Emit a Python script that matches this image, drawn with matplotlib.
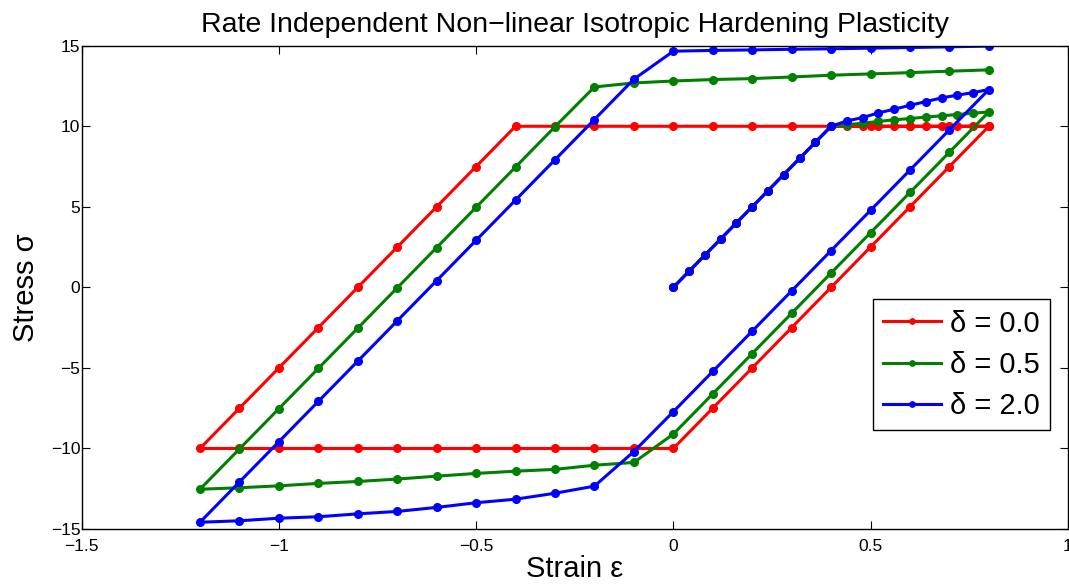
import numpy as np
import matplotlib
matplotlib.use("Agg")
import matplotlib.pyplot as plt

# Strain history: load 0 -> 0.8, unload 0.8 -> -1.2, reload -1.2 -> 0.8
strain_load = [0.0, 0.04, 0.08, 0.12, 0.16, 0.20, 0.24, 0.28, 0.32, 0.36, 0.40,
               0.44, 0.48, 0.52, 0.56, 0.60, 0.64, 0.68, 0.72, 0.76, 0.80]
strain_unload = [0.7, 0.6, 0.5, 0.4, 0.3, 0.2, 0.1, 0.0, -0.1, -0.2,
                 -0.3, -0.4, -0.5, -0.6, -0.7, -0.8, -0.9, -1.0, -1.1, -1.2]
strain_reload = [-1.1, -1.0, -0.9, -0.8, -0.7, -0.6, -0.5, -0.4, -0.3, -0.2,
                 -0.1, 0.0, 0.1, 0.2, 0.3, 0.4, 0.5, 0.6, 0.7, 0.8]

# delta = 0.0
red_load = [0, 1, 2, 3, 4, 5, 6, 7, 8, 9, 10,
            10, 10, 10, 10, 10, 10, 10, 10, 10, 10]
red_unload = [7.5, 5, 2.5, 0, -2.5, -5, -7.5, -10, -10, -10,
              -10, -10, -10, -10, -10, -10, -10, -10, -10, -10]
red_reload = [-7.5, -5, -2.5, 0, 2.5, 5, 7.5, 10, 10, 10,
              10, 10, 10, 10, 10, 10, 10, 10, 10, 10]

# delta = 0.5
green_load = [0, 1, 2, 3, 4, 5, 6, 7, 8, 9, 10,
              10.10, 10.19, 10.30, 10.40, 10.48, 10.57, 10.65, 10.73, 10.81, 10.89]
green_unload = [8.39, 5.89, 3.39, 0.89, -1.61, -4.11, -6.61, -9.11, -10.87, -11.04,
                -11.30, -11.41, -11.55, -11.72, -11.90, -12.05, -12.17, -12.32, -12.44, -12.53]
green_reload = [-10.03, -7.53, -5.03, -2.53, -0.03, 2.47, 4.97, 7.47, 9.97, 12.44,
                12.69, 12.81, 12.90, 12.96, 13.06, 13.17, 13.25, 13.33, 13.42, 13.50]

# delta = 2.0
blue_load = [0, 1, 2, 3, 4, 5, 6, 7, 8, 9, 10,
             10.33, 10.54, 10.83, 11.06, 11.30, 11.53, 11.76, 11.93, 12.09, 12.28]
blue_unload = [9.78, 7.28, 4.78, 2.28, -0.22, -2.72, -5.22, -7.72, -10.19, -12.34,
               -12.78, -13.15, -13.37, -13.66, -13.91, -14.06, -14.24, -14.33, -14.49, -14.58]
blue_reload = [-12.08, -9.58, -7.08, -4.58, -2.08, 0.42, 2.92, 5.42, 7.92, 10.42,
               12.92, 14.66, 14.71, 14.74, 14.78, 14.81, 14.85, 14.89, 14.93, 14.98]

labels = ['δ = 0.0', 'δ = 0.5', 'δ = 2.0']
colors = ['#ff0000', '#008000', '#0000ff']

plt.rcParams['font.family'] = ['Liberation Sans', 'DejaVu Sans']

strain = np.array(strain_load + strain_unload + strain_reload)
stresses = [red_load + red_unload + red_reload,
            green_load + green_unload + green_reload,
            blue_load + blue_unload + blue_reload]

fig = plt.figure(figsize=(10.69, 5.87), dpi=100)
ax = fig.add_axes([0.0764, 0.0988, 0.9224, 0.8233])

for s, c, lab in zip(stresses, colors, labels):
    ax.plot(strain, s, '-', color=c, lw=2.2, marker='o', ms=5.5, label=lab)

ax.set_xlim(-1.5, 1)
ax.set_ylim(-15, 15)
ax.set_xticks([-1.5, -1, -0.5, 0, 0.5, 1])
ax.set_xticklabels(['\u22121.5', '\u22121', '\u22120.5', '0', '0.5', '1'])
ax.set_yticks([-15, -10, -5, 0, 5, 10, 15])
ax.set_yticklabels(['\u221215', '\u221210', '\u22125', '0', '5', '10', '15'])
ax.tick_params(direction='in', top=True, right=True, labelsize=12.5, length=6, width=0.8)
ax.tick_params(axis='x', pad=7)
ax.tick_params(axis='y', pad=1)
for sp in ax.spines.values():
    sp.set_linewidth(1.0)

ax.set_xlabel('Strain ε', fontsize=21, labelpad=1)
ax.set_ylabel('Stress σ', fontsize=21, labelpad=8)
ax.set_title('Rate Independent Non\u2212linear Isotropic Hardening Plasticity', fontsize=20.5, pad=10)

leg = ax.legend(loc='upper right', bbox_to_anchor=(0.982, 0.475), borderaxespad=0,
                fontsize=21, fancybox=False, edgecolor='black', framealpha=1,
                handlelength=2.0, markerscale=0.7, numpoints=1, borderpad=0.35,
                labelspacing=0.45, handletextpad=0.3)
leg.get_frame().set_linewidth(1.0)

fig.savefig('out.png', dpi=100)
